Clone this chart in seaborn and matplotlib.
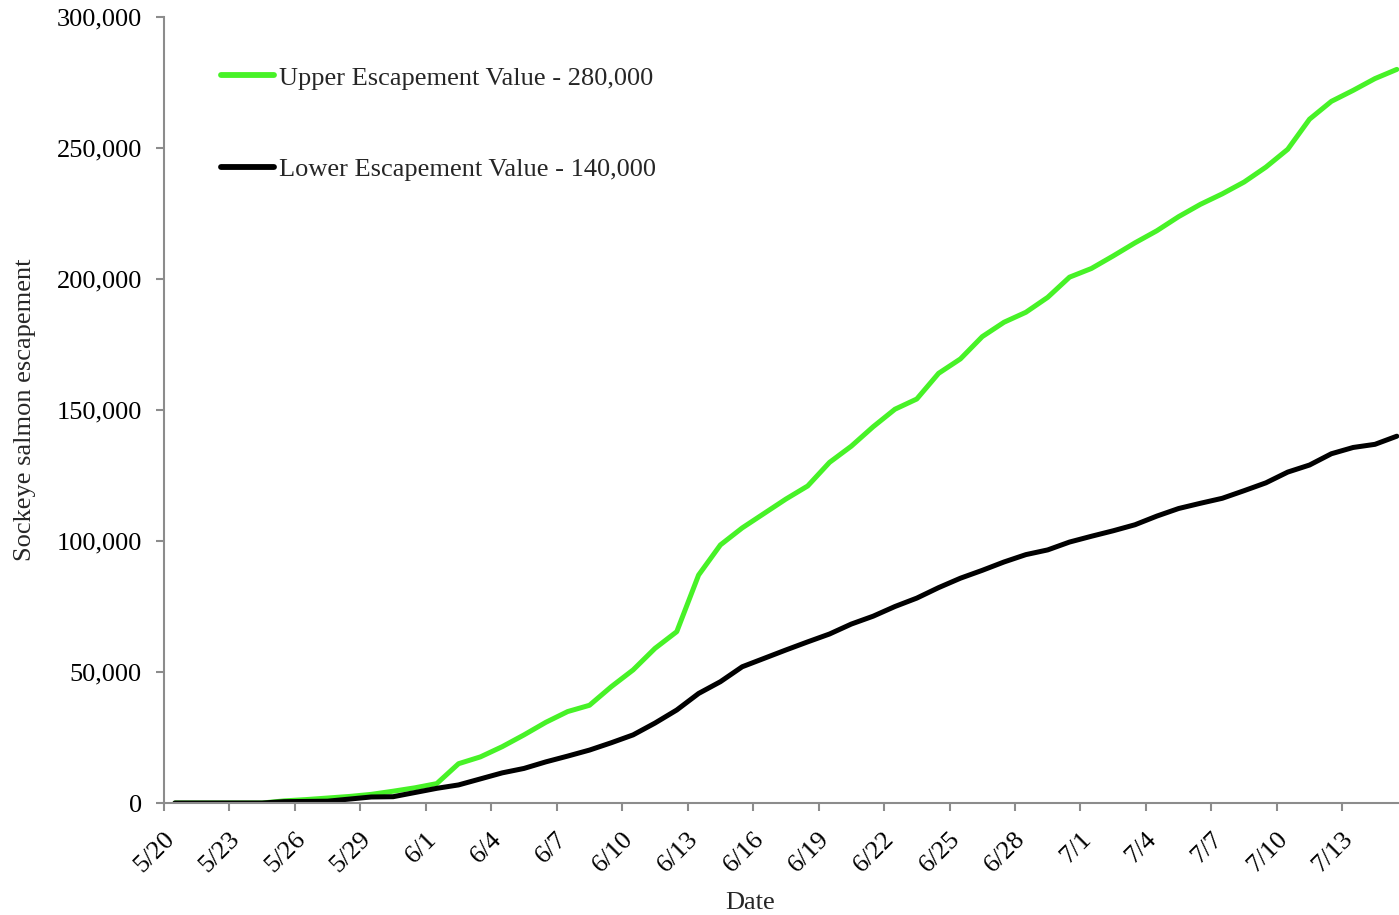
import numpy as np
import pandas as pd
import matplotlib
matplotlib.use('Agg')
import matplotlib.pyplot as plt
import matplotlib.transforms as mtransforms
from matplotlib.ticker import FuncFormatter
import seaborn as sns

# 데이터 (5/20 ~ 7/15, 일별 누적)
dates = pd.date_range('2000-05-20', '2000-07-15', freq='D')
upper = [0, 0, 0, 0, 0, 800, 1300, 1900, 2500, 3300,
         4500, 5800, 7400, 15000, 17600, 21500, 26000, 30800, 34900, 37300,
         44400, 50800, 59000, 65400, 87000, 98500, 105000, 110500, 116000, 121000,
         130000, 136200, 143600, 150300, 154200, 164000, 169500, 178000, 183500, 187300,
         193000, 200700, 204000, 208800, 213800, 218400, 223800, 228500, 232500, 237000,
         242700, 249500, 261000, 267800, 272000, 276500, 280000]
lower = [0, 0, 0, 0, 0, 500, 600, 700, 1500, 2300,
         2400, 4000, 5600, 6900, 9200, 11500, 13200, 15700, 17900, 20200,
         23000, 26000, 30500, 35500, 41800, 46300, 52000, 55200, 58400, 61500,
         64500, 68300, 71300, 75000, 78200, 82200, 85800, 88800, 92000, 94800,
         96600, 99600, 101800, 103900, 106200, 109500, 112400, 114400, 116300, 119200,
         122200, 126300, 129000, 133300, 135700, 136900, 140000]
tick_labels = ['5/20', '5/23', '5/26', '5/29', '6/1', '6/4', '6/7', '6/10', '6/13', '6/16',
               '6/19', '6/22', '6/25', '6/28', '7/1', '7/4', '7/7', '7/10', '7/13']
y_ticks = [0, 50000, 100000, 150000, 200000, 250000, 300000]

df = pd.DataFrame({'date': dates, 'day': np.arange(len(dates)),
                   'upper': upper, 'lower': lower})

sns.set_style('white')
plt.rcParams['font.family'] = ['Liberation Serif', 'DejaVu Serif']
fs = 19

fig = plt.figure(figsize=(13.99, 9.15), dpi=100)
ax = fig.add_axes([164 / 1399, (915 - 803) / 915, 1235 / 1399, 786 / 915])

sns.lineplot(data=df, x='day', y='upper', ax=ax, color='#47F227', lw=3.6,
             label='Upper Escapement Value - 280,000')
sns.lineplot(data=df, x='day', y='lower', ax=ax, color='black', lw=3.6,
             label='Lower Escapement Value - 140,000')

ax.set_xlim(-0.5, 56.1)
ax.set_ylim(0, 300000)
ax.set_yticks(y_ticks)
ax.yaxis.set_major_formatter(FuncFormatter(lambda v, p: f'{int(v):,}'))
ax.set_xticks(np.arange(len(tick_labels)) * 3 - 0.5)
ax.set_xticklabels(tick_labels, rotation=45, ha='right')

for s in ['top', 'right']:
    ax.spines[s].set_visible(False)
for s in ['left', 'bottom']:
    ax.spines[s].set_color('#8c8c8c')
    ax.spines[s].set_linewidth(1.5)

ax.tick_params(axis='both', direction='out', length=6, width=1.5, color='#8c8c8c',
               labelsize=fs, labelcolor='black')
ax.tick_params(axis='y', left=True, pad=10)
ax.tick_params(axis='x', bottom=True, pad=12)

# 회전 라벨 위치 보정
offset = mtransforms.ScaledTranslation(0.15, 0, fig.dpi_scale_trans)
for lbl in ax.get_xticklabels():
    lbl.set_transform(lbl.get_transform() + offset)

ax.set_xlabel('Date', fontsize=fs)
ax.set_ylabel('Sockeye salmon escapement', fontsize=fs)
ax.xaxis.set_label_coords(0.4745, -0.113)
ax.yaxis.set_label_coords(-0.104, 0.5)

leg = ax.legend(loc='upper left', bbox_to_anchor=(208 / 1399, 1 - 53 / 915),
                bbox_transform=fig.transFigure, frameon=False, fontsize=fs,
                handlelength=2.0, handletextpad=0.2, labelspacing=2.58, borderpad=0)
for h in leg.get_lines():
    h.set_linewidth(4.2)

fig.savefig('out.png', dpi=100)
